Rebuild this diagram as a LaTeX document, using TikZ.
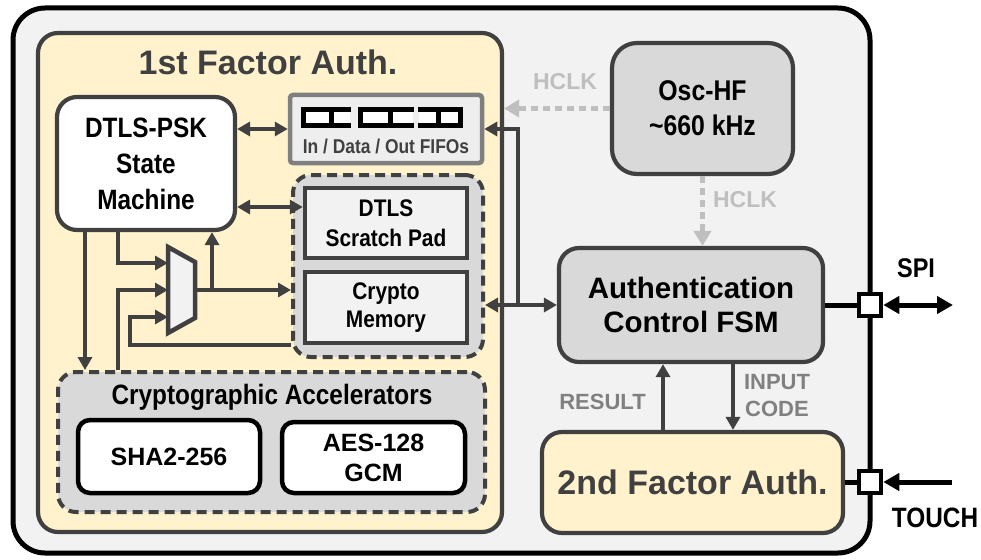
\documentclass[tikz,border=0pt]{standalone}
\usepackage{fontspec}
\setmainfont{Liberation Sans}
\newfontfamily\nar[FakeStretch=0.87]{Liberation Sans}
\usetikzlibrary{arrows.meta,calc}
\definecolor{dk}{HTML}{404040}
\definecolor{outerfill}{HTML}{F2F2F2}
\definecolor{yel}{HTML}{FFF2CC}
\definecolor{grp}{HTML}{D9D9D9}
\definecolor{lgt}{HTML}{F2F2F2}
\definecolor{fifofill}{HTML}{EEEEEE}
\definecolor{fifoline}{HTML}{7F7F7F}
\definecolor{clk}{HTML}{BFBFBF}
\definecolor{lab}{HTML}{808080}
\newcommand\fsz[2]{\fontsize{#1}{#2}\selectfont}
\begin{document}
\begin{tikzpicture}[x=1pt,y=-1pt,
  box/.style={draw=dk, line width=4.2pt, rounded corners=20pt, align=center, inner sep=0pt},
  grpbox/.style={draw=dk, line width=4pt, dash pattern=on 10pt off 6pt, fill=grp, rounded corners=18pt, inner sep=0pt},
  membox/.style={draw=dk, line width=4.5pt, fill=lgt, align=center, inner sep=0pt, minimum width=162pt, font=\nar\bfseries\fsz{24}{30}},
  accbox/.style={draw=black, line width=4.5pt, fill=white, rounded corners=12pt, align=center, inner sep=0pt, font=\bfseries\fsz{25}{30}},
  port/.style={draw=black, line width=4.5pt, fill=white, minimum size=22pt, inner sep=0pt},
  icon/.style={draw=black, line width=5pt},
  ar/.style={draw=dk, line width=4.5pt, -{Triangle[length=13pt,width=14pt]}},
  dar/.style={draw=dk, line width=4.5pt, {Triangle[length=13pt,width=14pt]}-{Triangle[length=13pt,width=14pt]}},
  clkar/.style={draw=clk, line width=5.5pt, dash pattern=on 7pt off 5pt, -{Triangle[length=15pt,width=17pt]}},
  blk/.style={draw=black, line width=5pt},
  blkone/.style={blk, -{Triangle[length=16pt,width=17pt]}},
  blktwo/.style={blk, {Triangle[length=16pt,width=17pt]}-{Triangle[length=16pt,width=17pt]}},
  clklab/.style={text=clk, font=\bfseries\fsz{23}{27}},
  siglab/.style={text=lab, font=\bfseries\fsz{22}{27}, align=center},
  iolab/.style={text=black, font=\nar\bfseries\fsz{27}{32}}
]
\useasboundingbox (0,0) rectangle (981,559);
\fill[white] (0,0) rectangle (981,559);

% outer chip
\node[draw=black, line width=5pt, fill=outerfill, rounded corners=32pt, minimum width=857pt, minimum height=545pt, inner sep=0pt] (outer) at (441.5,280.5) {};

% 1st factor
\node[box, fill=yel, minimum width=464pt, minimum height=499pt] (fa1) at (270,282.5) {};
\node[text=dk, font=\bfseries\fsz{34}{40}] (t1) at (268,62) {1st Factor Auth.};

\node[box, fill=white, minimum width=178pt, minimum height=133pt, font=\nar\bfseries\fsz{28}{36}] (dtls) at (146,163.5) {DTLS-PSK\\State\\Machine};

% FIFOs
\node[draw=fifoline, line width=4.5pt, fill=fifofill, rounded corners=3pt, minimum width=192pt, minimum height=68pt, inner sep=0pt] (fifo) at (386,129) {};
\node[text=dk, font=\nar\bfseries\fsz{20}{24}] (fifot) at (386,146) {In / Data / Out FIFOs};
\fill[white] (302,108) rectangle (350,127);
\fill[white] (359,108) rectangle (413,127);
\fill[white] (419,108) rectangle (462,127);
\draw[icon] (351,109.5) -- (303.5,109.5) -- (303.5,125.5) -- (351,125.5);
\draw[icon] (331.5,107) -- (331.5,128);
\draw[icon] (414,109.5) -- (360.5,109.5) -- (360.5,125.5) -- (414,125.5);
\draw[icon] (390,107) -- (390,128);
\draw[icon] (418,109.5) -- (460.5,109.5) -- (460.5,125.5) -- (418,125.5);
\draw[icon] (438,107) -- (438,128);

% memory group
\node[grpbox, minimum width=190pt, minimum height=182pt] (memg) at (388,266) {};
\node[membox, minimum height=70pt] (scratch) at (386,223) {DTLS\\Scratch Pad};
\node[membox, minimum height=71pt, font=\nar\bfseries\fsz{24}{28.5}] (cmem) at (386,307.5) {Crypto\\Memory};

% crypto accelerators
\node[grpbox, minimum width=427pt, minimum height=140pt] (accg) at (271.5,442) {};
\node[text=black, font=\nar\bfseries\fsz{28}{32}] (acct) at (272,397) {Cryptographic Accelerators};
\node[accbox, minimum width=182pt, minimum height=73pt] (sha) at (169,456.5) {SHA2-256};
\node[accbox, minimum width=183pt, minimum height=71pt] (aes) at (373.5,457.5) {AES-128\\GCM};

% mux
\draw[draw=dk, line width=4.5pt, fill=lgt, line join=miter] (168,247) -- (195,262) -- (195,318) -- (168,333) -- cycle;
\coordinate (muxin1) at (168,263);
\coordinate (muxin2) at (168,290);
\coordinate (muxin3) at (168,317);
\coordinate (muxout) at (195,290);

% right side blocks
\node[box, fill=grp, rounded corners=25pt, minimum width=181pt, minimum height=131pt, font=\nar\bfseries\fsz{28.5}{35}] (osc) at (702.5,108.5) {Osc-HF\\\textasciitilde660 kHz};
\node[box, fill=grp, minimum width=264pt, minimum height=114pt, font=\bfseries\fsz{29.5}{34}] (fsm) at (691,305) {Authentication\\Control FSM};
\node[box, fill=yel, minimum width=301pt, minimum height=101pt, text=dk, font=\bfseries\fsz{34}{40}] (fa2) at (692.5,482.5) {2nd Factor Auth.};

\node[port] (spisq) at (870,305) {};
\node[port] (touchsq) at (870,482) {};
\coordinate (spiend) at (953,305);
\coordinate (touchsrc) at (952,482);

% labels
\node[clklab] (hclk1) at (565,82) {HCLK};
\node[clklab] (hclk2) at (745,200) {HCLK};
\node[siglab] (res) at (602.5,402) {RESULT};
\node[siglab] (inc) at (777,395.5) {INPUT\\CODE};
\node[iolab] (spi) at (916,268) {SPI};
\node[iolab, font=\nar\bfseries\fsz{28}{32}] (touch) at (935,518) {TOUCH};

% connectors, 1st factor
\draw[dar] (fifo.west -| dtls.east) -- (fifo.west);
\coordinate (d2) at ([yshift=-43.5pt]dtls.east);
\draw[dar] (d2) -- (d2 -| scratch.west);
\draw[ar] (muxout) -- (muxout -| memg.west);
\coordinate (br) at ([xshift=17pt]muxout);
\draw[ar] (br) -- (br |- dtls.south);
\draw[ar] ([xshift=-28pt]dtls.south) |- (muxin1);
\draw[ar] ([xshift=-153.5pt]accg.north) |- (muxin2);
\coordinate (m3) at ([yshift=-79pt]memg.west);
\draw[ar] (m3) -| ([xshift=-38pt]muxin3) -- (muxin3);
\draw[ar] ([xshift=-61pt]dtls.south) -- ([xshift=-61pt]dtls.south |- accg.north);

% clocks
\draw[clkar] (osc.west) -- (osc.west -| fa1.east);
\draw[clkar] (osc.south) -- (osc.south |- fsm.north);

% FSM links
\draw[dar] (fsm.west) -- (fsm.west -| memg.east);
\coordinate (j) at ([xshift=-39pt]fsm.west);
\draw[ar] (j) |- (fifo.east);
\draw[ar] ([xshift=-29.5pt]fa2.north) -- ([xshift=-29.5pt]fa2.north |- fsm.south);
\draw[ar] ([xshift=42pt]fsm.south) -- ([xshift=42pt]fsm.south |- fa2.north);

% IO
\draw[blk] (fsm.east) -- (spisq.west);
\draw[blktwo] (spisq.east) -- (spiend);
\draw[blk] (fa2.east |- touchsq.west) -- (touchsq.west);
\draw[blkone] (touchsrc) -- (touchsq.east);
\end{tikzpicture}
\end{document}
